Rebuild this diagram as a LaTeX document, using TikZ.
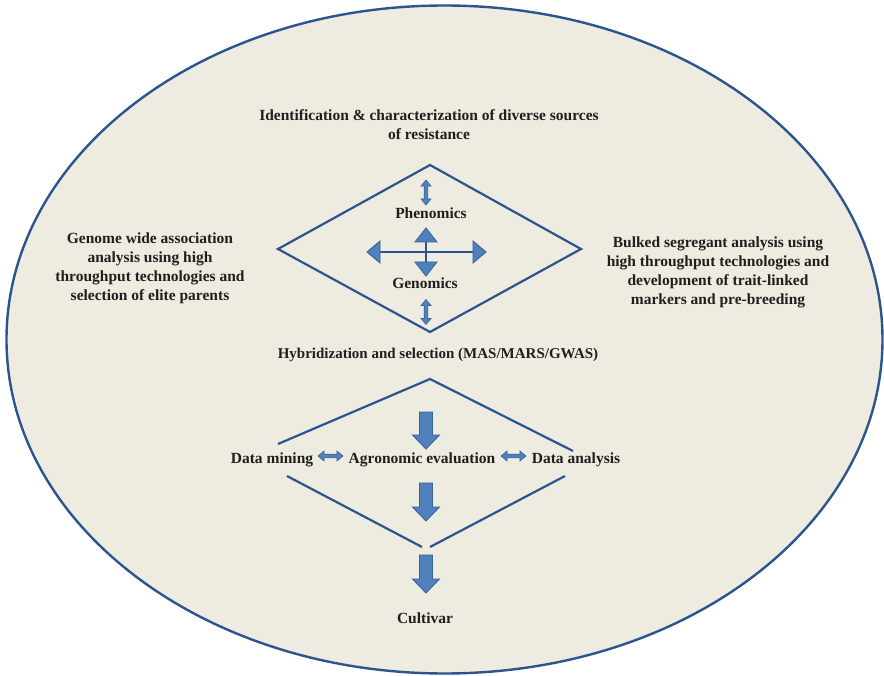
\documentclass[tikz,border=0pt]{standalone}
\usepackage{fontspec}
\setmainfont{Liberation Serif}
\begin{document}
\begin{tikzpicture}[x=1pt,y=-1pt,
  every node/.style={font=\bfseries\fontsize{15.5}{19}\selectfont, text=black!88, align=center, inner sep=0pt},
  frame/.style={draw=blueline, line width=2.2pt},
  blocky/.style={fill=arrowfill, draw=arrowedge, line width=0.9pt, line join=miter},
  crossline/.style={draw=blueline, line width=1.8pt}]
\definecolor{bg}{HTML}{EEEBE0}
\definecolor{blueline}{HTML}{2C5590}
\definecolor{arrowfill}{HTML}{4F81BD}
\definecolor{arrowedge}{HTML}{3A6496}
\useasboundingbox (0,0) rectangle (884,676);
\fill[white] (0,0) rectangle (884,676);

% outer ellipse
\draw[fill=bg, draw=blueline, line width=2.4pt] (444.5,339.5) ellipse [x radius=438, y radius=334];

% block arrow pointing down: x, top, tip
\newcommand{\blockdown}[3]{%
  \draw[blocky] (#1-6.5,#2) -- (#1+6.5,#2) -- (#1+6.5,#3-14) -- (#1+13.5,#3-14)
    -- (#1,#3) -- (#1-13.5,#3-14) -- (#1-6.5,#3-14) -- cycle;}
% slim double-headed block arrow: centre x, centre y, half length, rotation
\newcommand{\dblarrow}[4]{%
  \draw[blocky, line width=0.6pt, shift={(#1,#2)}, rotate=#4]
    (-#3,0) -- (-#3+6,-5) -- (-#3+6,-1.8) -- (#3-6,-1.8) -- (#3-6,-5) -- (#3,0)
    -- (#3-6,5) -- (#3-6,1.8) -- (-#3+6,1.8) -- (-#3+6,5) -- cycle;}

% upper part
\node (ident) at (429,125) {Identification \& characterization of diverse sources\\of resistance};
\draw[frame, line join=miter] (430,165) -- (581,249) -- (430,332) -- (278,249) -- cycle;
\node (pheno) at (431,213) {Phenomics};
\node (geno) at (425,283) {Genomics};
\dblarrow{426}{192.5}{12.5}{90}
\dblarrow{426}{312}{12.5}{90}

% central cross of arrows
\coordinate (cc) at (426,252);
\draw[crossline] (380,252) -- (473,252);
\draw[crossline] (426,242) -- (426,262);
\draw[blocky] (367,252) -- (380,241) -- (380,263) -- cycle;
\draw[blocky] (486,252) -- (473,241) -- (473,263) -- cycle;
\draw[blocky] (426,228) -- (415,242) -- (437,242) -- cycle;
\draw[blocky] (426,276) -- (415,262) -- (437,262) -- cycle;

\node (gwas) at (150,268.5) {Genome wide association\\analysis using high\\throughput technologies and\\selection of elite parents};
\node (bsa) at (718,272) {Bulked segregant analysis using\\high throughput technologies and\\development of trait-linked\\markers and pre-breeding};

\node[font=\bfseries\fontsize{15}{19}\selectfont] (hyb) at (438,355) {Hybridization and selection (MAS/MARS/GWAS)};

% lower part
\draw[frame] (278,444) -- (430,379) -- (573,451);
\draw[frame] (287,476) -- (422,547);
\draw[frame] (565,476) -- (430,547);
\blockdown{426}{412}{449}
\node (mining) at (272,460) {Data mining};
\node (agro) at (422,460) {Agronomic evaluation};
\node (anal) at (576,460) {Data analysis};
\dblarrow{330.5}{456}{12.5}{0}
\dblarrow{513.5}{456}{12.5}{0}
\blockdown{426}{483}{521}
\blockdown{426}{555}{593}
\node (cult) at (425,618) {Cultivar};
\end{tikzpicture}
\end{document}
